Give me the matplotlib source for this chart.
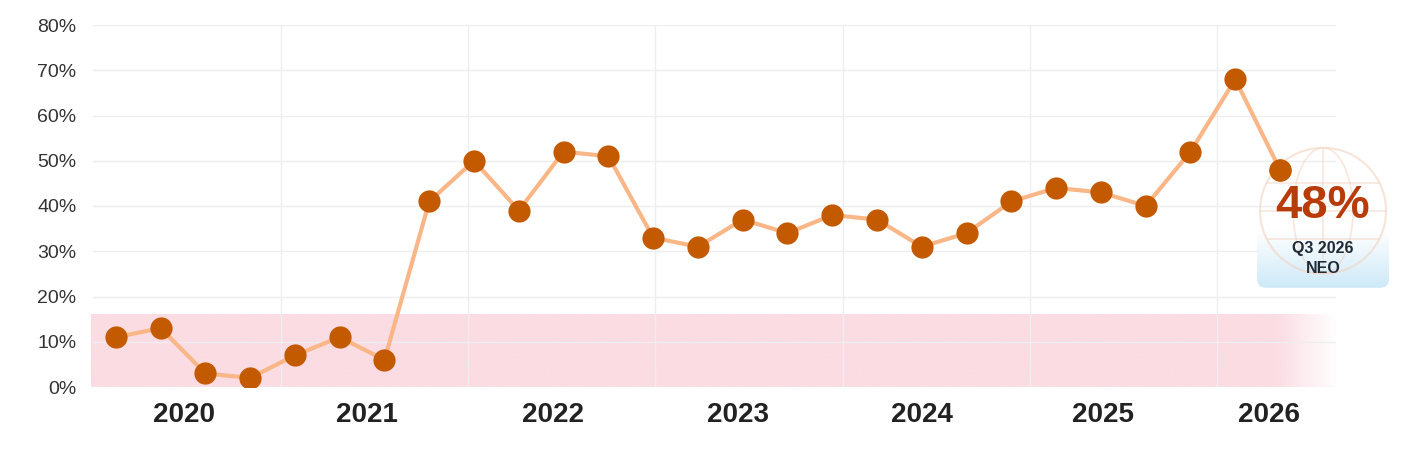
import numpy as np
import matplotlib
matplotlib.use("Agg")
import matplotlib.pyplot as plt
from matplotlib.patches import Circle, Ellipse, FancyBboxPatch

plt.rcParams['font.family'] = ['Liberation Sans', 'DejaVu Sans']

# quarterly values, Q1 2020 .. Q3 2026
values = [11, 13, 3, 2, 7, 11, 6, 41, 50, 39, 52, 51, 33, 31, 37, 34,
          38, 37, 31, 34, 41, 44, 43, 40, 52, 68, 48]
years = ["2020", "2021", "2022", "2023", "2024", "2025", "2026"]
year_pos = [1.52, 5.61, 9.76, 13.89, 18.0, 22.05, 25.75]
grid_pos = [3.69, 7.86, 12.04, 16.24, 20.42, 24.6]
band_top = 16
badge_value = "48%"
badge_period = "Q3 2026"
badge_name = "NEO"

x = np.arange(len(values))

fig = plt.figure(figsize=(14.26, 4.5), dpi=100)
ax = fig.add_axes([93/1426, 1 - 387/450, (1336 - 93)/1426, (387 - 25)/450])
ax.set_xlim(-0.51, 27.25)
ax.set_ylim(0, 80)

# pink band, fading out on the right
xmin, xmax = -0.56, 27.3
n = 400
xs = np.linspace(xmin, xmax, n)
alpha = np.clip((xmax - xs) / (xmax - 25.9), 0, 1)
band = np.zeros((1, n, 4))
band[..., 0] = 0xfb / 255
band[..., 1] = 0xdc / 255
band[..., 2] = 0xe3 / 255
band[..., 3] = alpha
ax.imshow(band, extent=[xmin, xmax, 0, band_top], aspect='auto', zorder=0,
          interpolation='bilinear', clip_on=False)

ax.plot(x, values, color='#f9b788', lw=3, zorder=2, solid_capstyle='round')
ax.plot(x, values, 'o', color='#c45a00', markersize=16, markeredgewidth=0, zorder=3)

ax.set_yticks(range(0, 81, 10))
ax.set_yticklabels([f"{v}%" for v in range(0, 81, 10)])
ax.set_xticks(year_pos)
ax.set_xticklabels(years, fontweight='bold', fontsize=20, color='#222222')
ax.set_xticks(grid_pos, minor=True)
ax.tick_params(axis='x', which='both', length=0, pad=11)
ax.tick_params(axis='y', length=0, pad=12, labelsize=14, labelcolor='#333333')
ax.grid(False)
ax.grid(axis='y', which='major', color='#eeeeee', lw=1)
ax.grid(axis='x', which='minor', color='#eeeeee', lw=1)
ax.set_axisbelow(True)
for s in ax.spines.values():
    s.set_visible(False)

# badge next to the last point (display pixel coords)
px, py = ax.transData.transform((x[-1], values[-1]))
cx, cy = px + 43, py - 41
H = fig.bbox.height

# light blue gradient box
grad = np.linspace(0, 1, 100).reshape(-1, 1)
cmap = matplotlib.colors.LinearSegmentedColormap.from_list("b", ["#cde9f8", "#ffffff"])
gax = fig.add_axes([(cx - 66) / 1426, (cy - 77) / H, 132 / 1426, 58 / H], zorder=4)
gax.imshow(np.repeat(cmap(grad), 2, axis=1), aspect='auto', extent=[0, 1, 0, 1], origin='lower')
gax.set_axis_off()
gpatch = FancyBboxPatch((cx - 66, cy - 77), 132, 58,
                        boxstyle="round,pad=0,rounding_size=9", transform=None)
gax.images[0].set_clip_path(gpatch)

oax = fig.add_axes([0, 0, 1, 1], zorder=5)
oax.set_xlim(0, 1426)
oax.set_ylim(0, H)
oax.set_axis_off()
oax.patch.set_alpha(0)
gc = '#f3d3c0'
globe = Circle((cx, cy), 63, facecolor='none', edgecolor=gc, lw=1.5, alpha=0.6)
oax.add_patch(globe)
ell = Ellipse((cx, cy), 60, 126, facecolor='none', edgecolor=gc, lw=1.2, alpha=0.55)
oax.add_patch(ell)
ell.set_clip_path(globe)
for dy in (-28, 0, 28):
    ln, = oax.plot([cx - 63, cx + 63], [cy + dy, cy + dy], color=gc, lw=1.2, alpha=0.55)
    ln.set_clip_path(globe)
oax.plot([cx, cx], [cy - 63, cy + 63], color=gc, lw=1.2, alpha=0.55)[0].set_clip_path(globe)

# keep the last point above the badge
oax.plot(x[-1:], values[-1:], 'o', color='#c45a00', markersize=16, markeredgewidth=0,
         transform=ax.transData)

oax.text(cx, cy + 5, badge_value, ha='center', va='center', fontsize=34,
         fontweight='bold', color='#b83c0a')
oax.text(cx, cy - 38, badge_period, ha='center', va='center', fontsize=11.5,
         fontweight='bold', color='#1f2a36')
oax.text(cx, cy - 58, badge_name, ha='center', va='center', fontsize=11.5,
         fontweight='bold', color='#1f2a36')

fig.savefig("out.png", dpi=100)
